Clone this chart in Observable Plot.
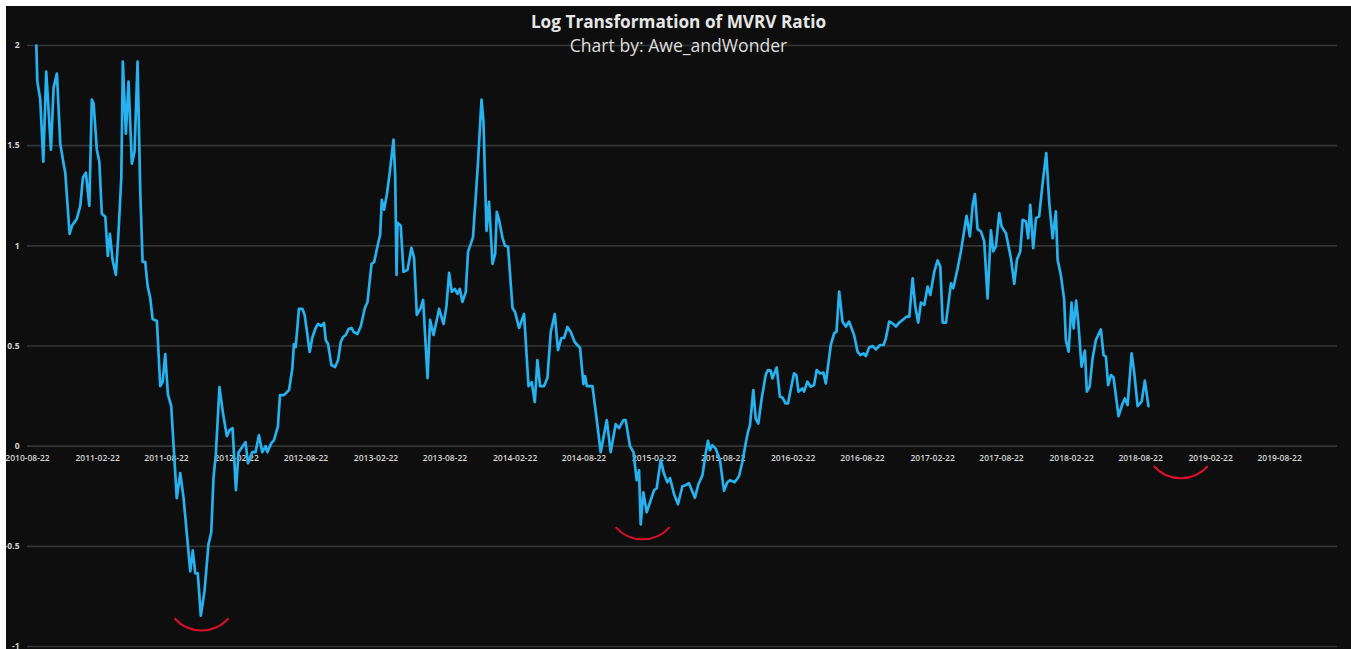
<!DOCTYPE html>
<html>
<head>
<meta charset="utf-8">
<script src="https://cdn.jsdelivr.net/npm/d3@7"></script>
<script src="https://cdn.jsdelivr.net/npm/@observablehq/plot@0.6"></script>
<style>
  html, body { margin: 0; padding: 0; background: #ffffff; }
  #frame { position: absolute; left: 6px; top: 6px; width: 1345px; height: 643px; background: #0e0e0e; overflow: hidden; }
  #title { position: absolute; left: 0; top: 5px; width: 1345px; text-align: center; font-family: "Open Sans", sans-serif; font-weight: 700; font-size: 17.2px; color: #e6e6e6; line-height: 22px; }
  #subtitle { position: absolute; left: 0; top: 28px; width: 1345px; text-align: center; font-family: "Open Sans", sans-serif; font-weight: 400; font-size: 17.6px; color: #dedede; line-height: 22px; }
</style>
</head>
<body>
<div id="frame">
  <div id="chart"></div>
  <div id="title">Log Transformation of MVRV Ratio</div>
  <div id="subtitle">Chart by: Awe_andWonder</div>
</div>
<script>
// ---- data (decimal-year dates and log MVRV values) ----
const yearFrac = [
 2010.702,2010.709,2010.730,2010.752,2010.773,2010.807,2010.826,2010.850,2010.874,2010.898,
 2010.910,2010.941,2010.958,2010.993,2011.018,2011.037,2011.058,2011.083,2011.101,2011.114,
 2011.137,2011.155,2011.173,2011.198,2011.216,2011.231,2011.250,2011.274,2011.293,2011.313,
 2011.324,2011.346,2011.365,2011.389,2011.408,2011.430,2011.449,2011.466,2011.485,2011.502,
 2011.521,2011.538,2011.569,2011.593,2011.610,2011.629,2011.648,2011.672,2011.712,2011.737,
 2011.761,2011.809,2011.827,2011.845,2011.863,2011.885,2011.912,2011.940,2011.960,2011.976,
 2011.993,2012.019,2012.043,2012.072,2012.091,2012.113,2012.137,2012.156,2012.206,2012.223,
 2012.254,2012.278,2012.302,2012.326,2012.350,2012.362,2012.391,2012.410,2012.438,2012.453,
 2012.482,2012.518,2012.542,2012.553,2012.566,2012.589,2012.614,2012.630,2012.650,2012.666,
 2012.686,2012.709,2012.726,2012.750,2012.769,2012.781,2012.798,2012.822,2012.848,2012.870,
 2012.889,2012.906,2012.925,2012.945,2012.966,2012.981,2013.009,2013.033,2013.062,2013.081,
 2013.110,2013.129,2013.157,2013.172,2013.184,2013.200,2013.220,2013.241,2013.268,2013.280,
 2013.290,2013.297,2013.320,2013.340,2013.369,2013.397,2013.416,2013.436,2013.464,2013.481,
 2013.513,2013.531,2013.556,2013.596,2013.628,2013.649,2013.668,2013.687,2013.709,2013.728,
 2013.745,2013.764,2013.788,2013.804,2013.824,2013.840,2013.860,2013.876,2013.901,2013.915,
 2013.937,2013.955,2013.980,2013.999,2014.011,2014.027,2014.052,2014.070,2014.092,2014.124,
 2014.142,2014.171,2014.207,2014.239,2014.262,2014.284,2014.303,2014.322,2014.351,2014.375,
 2014.399,2014.428,2014.451,2014.476,2014.495,2014.519,2014.543,2014.571,2014.610,2014.634,
 2014.646,2014.658,2014.699,2014.727,2014.758,2014.802,2014.830,2014.866,2014.890,2014.922,
 2014.938,2014.969,2014.994,2015.017,2015.034,2015.046,2015.065,2015.089,2015.113,2015.142,
 2015.161,2015.190,2015.213,2015.238,2015.257,2015.285,2015.314,2015.346,2015.369,2015.393,
 2015.436,2015.461,2015.490,2015.513,2015.530,2015.544,2015.561,2015.585,2015.616,2015.645,
 2015.669,2015.688,2015.722,2015.753,2015.777,2015.801,2015.817,2015.832,2015.856,2015.873,
 2015.892,2015.916,2015.945,2015.961,2015.981,2015.993,2016.024,2016.047,2016.065,2016.088,
 2016.105,2016.124,2016.148,2016.165,2016.180,2016.208,2016.220,2016.244,2016.268,2016.292,
 2016.311,2016.335,2016.359,2016.376,2016.412,2016.436,2016.453,2016.472,2016.496,2016.520,
 2016.543,2016.579,2016.604,2016.623,2016.647,2016.664,2016.687,2016.712,2016.735,2016.766,
 2016.791,2016.807,2016.831,2016.855,2016.879,2016.903,2016.927,2016.958,2016.975,2016.999,
 2017.018,2017.039,2017.059,2017.083,2017.107,2017.126,2017.155,2017.179,2017.198,2017.215,
 2017.239,2017.275,2017.291,2017.323,2017.346,2017.387,2017.411,2017.431,2017.447,2017.466,
 2017.490,2017.514,2017.538,2017.562,2017.579,2017.598,2017.622,2017.639,2017.670,2017.706,
 2017.730,2017.749,2017.773,2017.790,2017.814,2017.830,2017.845,2017.866,2017.886,2017.909,
 2017.934,2017.960,2017.981,2018.006,2018.029,2018.042,2018.065,2018.089,2018.101,2018.121,
 2018.142,2018.157,2018.175,2018.190,2018.214,2018.238,2018.252,2018.272,2018.293,2018.317,
 2018.353,2018.372,2018.389,2018.405,2018.425,2018.444,2018.480,2018.509,2018.525,2018.545,
 2018.574,2018.592,2018.617,2018.646,2018.669,2018.695
];
const mvrvLog = [
 2.00,1.82,1.73,1.42,1.87,1.48,1.79,1.86,1.51,1.41,
 1.365,1.06,1.10,1.135,1.20,1.34,1.365,1.20,1.73,1.71,
 1.48,1.42,1.16,1.145,0.95,1.06,0.93,0.855,1.07,1.34,
 1.92,1.56,1.82,1.41,1.47,1.92,1.28,0.92,0.92,0.80,
 0.74,0.635,0.625,0.30,0.32,0.46,0.26,0.20,-0.26,-0.135,
 -0.26,-0.625,-0.52,-0.635,-0.635,-0.846,-0.72,-0.49,-0.43,-0.16,
 -0.04,0.295,0.17,0.05,0.08,0.09,-0.22,-0.03,0.02,-0.085,
 -0.03,-0.03,0.055,-0.03,0.0,-0.03,0.015,0.03,0.097,0.255,
 0.255,0.28,0.39,0.51,0.495,0.685,0.685,0.655,0.555,0.47,
 0.545,0.59,0.61,0.60,0.615,0.53,0.51,0.405,0.395,0.43,
 0.52,0.545,0.555,0.585,0.59,0.57,0.56,0.60,0.69,0.72,
 0.91,0.92,1.01,1.055,1.23,1.18,1.255,1.365,1.53,1.355,
 0.855,1.115,1.10,0.87,0.88,0.99,0.94,0.655,0.69,0.73,
 0.34,0.63,0.555,0.685,0.61,0.70,0.865,0.77,0.785,0.76,
 0.785,0.72,0.77,0.97,1.01,1.045,1.25,1.42,1.73,1.62,
 1.075,1.22,0.91,0.96,1.17,1.13,1.04,1.00,0.995,0.69,
 0.67,0.59,0.66,0.30,0.32,0.22,0.43,0.30,0.30,0.34,
 0.57,0.66,0.48,0.54,0.54,0.595,0.57,0.52,0.49,0.31,
 0.35,0.30,0.30,0.147,-0.03,0.13,-0.03,0.11,0.09,0.13,
 0.13,0.0,-0.03,-0.17,-0.12,-0.39,-0.23,-0.33,-0.28,-0.22,
 -0.21,-0.067,-0.137,-0.18,-0.16,-0.237,-0.29,-0.20,-0.195,-0.185,
 -0.257,-0.19,-0.145,-0.037,0.027,-0.02,0.005,-0.012,-0.07,-0.223,
 -0.18,-0.17,-0.18,-0.15,-0.08,0.013,0.07,0.105,0.28,0.138,
 0.113,0.238,0.355,0.38,0.377,0.338,0.393,0.247,0.243,0.213,
 0.213,0.28,0.363,0.355,0.272,0.288,0.272,0.322,0.297,0.305,
 0.38,0.363,0.367,0.313,0.505,0.563,0.572,0.772,0.622,0.597,
 0.622,0.555,0.472,0.455,0.463,0.45,0.493,0.50,0.483,0.505,
 0.505,0.538,0.622,0.613,0.597,0.617,0.63,0.647,0.647,0.838,
 0.697,0.617,0.717,0.705,0.797,0.755,0.872,0.927,0.897,0.617,
 0.617,0.813,0.788,0.888,0.972,1.15,1.047,1.205,1.258,1.083,
 1.072,1.022,0.738,1.077,0.972,0.997,1.163,1.097,1.063,0.938,
 0.81,0.93,0.972,1.13,1.122,1.038,1.205,0.988,1.138,1.147,
 1.313,1.463,1.222,1.038,1.172,0.93,0.855,0.73,0.53,0.472,
 0.717,0.588,0.727,0.622,0.397,0.477,0.272,0.297,0.438,0.53,
 0.583,0.455,0.447,0.305,0.355,0.343,0.15,0.213,0.238,0.205,
 0.463,0.372,0.2,0.222,0.327,0.2
];
const xTickLabels = [
 "2010-08-22","2011-02-22","2011-08-22","2012-02-22","2012-08-22","2013-02-22","2013-08-22",
 "2014-02-22","2014-08-22","2015-02-22","2015-08-22","2016-02-22","2016-08-22","2017-02-22",
 "2017-08-22","2018-02-22","2018-08-22","2019-02-22","2019-08-22"
];
const yTicks = [2, 1.5, 1, 0.5, 0, -0.5, -1];
const xDomain = ["2010-08-22", "2020-01-21"];
// red annotation arcs: lowest point of each arc (decimal year, value)
const arcYear = [2011.890, 2015.060, 2018.928];
const arcValue = [-0.92, -0.465, -0.16];

// ---- helpers ----
const parse = d3.utcParse("%Y-%m-%d");
function fromYearFrac(t) {
  const y = Math.floor(t);
  const s = Date.UTC(y, 0, 1), e = Date.UTC(y + 1, 0, 1);
  return new Date(s + (t - y) * (e - s));
}
const series = yearFrac.map((t, i) => ({date: fromYearFrac(t), value: mvrvLog[i]}));
const xTicks = xTickLabels.map(parse);
const arcs = arcYear.map((t, i) => ({date: fromYearFrac(t), value: arcValue[i]}));

const arcR = 36, arcHalf = 0.85;
const arcSymbol = {
  draw(context) {
    context.arc(0, -arcR, arcR, Math.PI / 2 - arcHalf, Math.PI / 2 + arcHalf);
  }
};

const chart = Plot.plot({
  width: 1345,
  height: 643,
  marginLeft: 21,
  marginRight: 14,
  marginTop: 39,
  marginBottom: 3,
  style: {background: "transparent", color: "#d9d9d9", fontFamily: "'Open Sans', sans-serif", overflow: "visible"},
  x: {type: "utc", domain: xDomain.map(parse), axis: null},
  y: {domain: [-1, 2], label: null},
  marks: [
    Plot.gridY(yTicks, {stroke: "#353535", strokeOpacity: 1, strokeWidth: 1.6}),
    Plot.axisY(yTicks, {tickSize: 0, tickPadding: 8, tickFormat: d => String(d), label: null, fontSize: 8.5, fontWeight: "bold", fill: "#d4d4d4"}),
    Plot.text(xTicks, {x: d => d, y: () => 0, text: (d, i) => xTickLabels[i], dy: 12, fontSize: 8.5, fontWeight: "600", fill: "#d4d4d4", textAnchor: "middle"}),
    Plot.line(series, {x: "date", y: "value", stroke: "#27b1ee", strokeWidth: 2.7, strokeLinejoin: "round"}),
    Plot.dot(arcs, {x: "date", y: "value", symbol: arcSymbol, r: 4, fill: "none", stroke: "#d8102c", strokeWidth: 2})
  ]
});
document.getElementById("chart").appendChild(chart);
</script>
</body>
</html>
